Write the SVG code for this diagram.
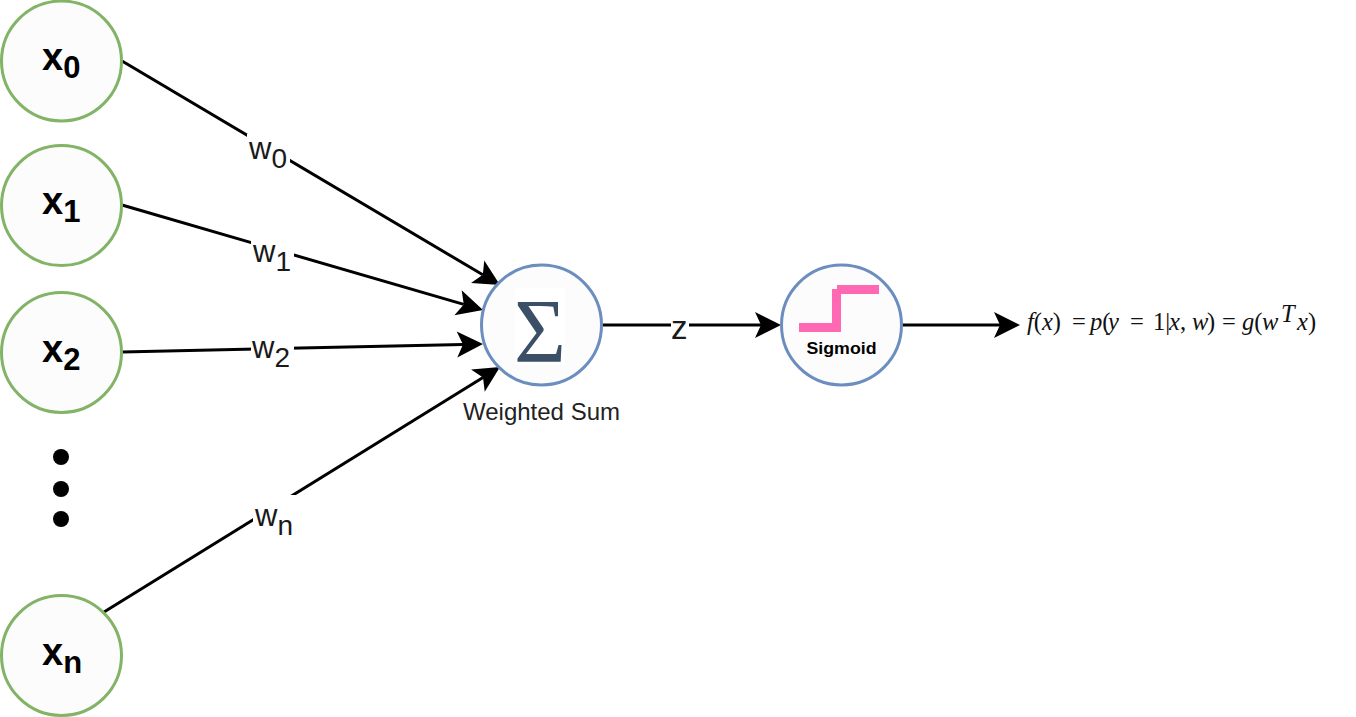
<svg xmlns="http://www.w3.org/2000/svg" width="1356" height="717" viewBox="0 0 1356 717">
<style>
.in{fill:#fcfcfc;stroke:#82b366;stroke-width:3}
.op{fill:#fcfcfc;stroke:#6c8ebf;stroke-width:3}
.e{fill:none;stroke:#000;stroke-width:3;marker-end:url(#a)}
.x{font:bold 38px "Liberation Sans",Arial,sans-serif;fill:#000}
.sx{font-size:31px}
.w{font:31px "Liberation Sans",Arial,sans-serif;fill:#1a1a1a}
.s{font-size:28px}
.m{font:italic 24.5px "Liberation Serif","Times New Roman",serif;fill:#111}
.u{font-style:normal}
.p{fill:#ff69b4}
</style>
<defs>
<marker id="a" markerUnits="userSpaceOnUse" markerWidth="30" markerHeight="30" refX="6" refY="15" orient="auto" overflow="visible">
<path d="M0 2L26 15L0 28L6 15Z" fill="#000"/>
</marker>
</defs>
<rect width="1356" height="717" fill="#fff"/>
<g id="connectors">
<line class="e" x1="122" y1="61" x2="482.8" y2="274.8"/>
<line class="e" x1="122" y1="205" x2="463.8" y2="304.4"/>
<line class="e" x1="122" y1="352" x2="463" y2="344.4"/>
<line class="e" x1="104" y1="612" x2="483" y2="377.5"/>
<line class="e" x1="602" y1="325" x2="761" y2="325"/>
<line class="e" x1="902" y1="325" x2="1000" y2="325"/>
<g id="edge-labels">
<rect x="247" y="134" width="43" height="34" fill="#fff"/>
<text class="w" x="249" y="158.5">w<tspan class="s" dy="9">0</tspan></text>
<rect x="251" y="238" width="43" height="34" fill="#fff"/>
<text class="w" x="253" y="261.5">w<tspan class="s" dy="9">1</tspan></text>
<rect x="251" y="333" width="43" height="34" fill="#fff"/>
<text class="w" x="252" y="358">w<tspan class="s" dy="9">2</tspan></text>
<rect x="253" y="495" width="44" height="40" fill="#fff"/>
<text class="w" x="255" y="526">w<tspan class="s" dy="9">n</tspan></text>
<rect x="671" y="318" width="18" height="24" fill="#fff"/>
<text class="w" x="671" y="339" style="font-size:33px">z</text>
</g>
</g>
<g id="x0"><circle class="in" cx="61.5" cy="61" r="60"/><text class="x" x="42" y="69.5">x<tspan class="sx" dy="8.5">0</tspan></text></g>
<g id="x1"><circle class="in" cx="61.5" cy="205.5" r="60"/><text class="x" x="42" y="213.5">x<tspan class="sx" dy="8.5">1</tspan></text></g>
<g id="x2"><circle class="in" cx="61.5" cy="352.5" r="60"/><text class="x" x="42" y="361.5">x<tspan class="sx" dy="8.5">2</tspan></text></g>
<g id="dots"><circle cx="61" cy="457" r="8"/><circle cx="61" cy="489" r="8"/><circle cx="61" cy="519" r="8"/></g>
<g id="xn"><circle class="in" cx="61.5" cy="655.5" r="60"/><text class="x" x="42" y="664.5">x<tspan class="sx" dy="8.5">n</tspan></text></g>
<g id="sum"><circle class="op" cx="541.5" cy="325" r="60"/>
<rect x="515" y="288" width="50" height="77" fill="#fff"/>
<text x="540" y="362" text-anchor="middle" textLength="52" lengthAdjust="spacingAndGlyphs" style="font:90px 'Liberation Serif','Times New Roman',serif;fill:#3b4f66">Σ</text>
<text x="541.5" y="420" text-anchor="middle" style="font:24px 'Liberation Sans',Arial,sans-serif;fill:#222">Weighted Sum</text></g>
<g id="sigmoid"><circle class="op" cx="841.5" cy="325" r="60"/>
<rect class="p" x="799" y="323" width="42" height="9"/><rect class="p" x="832" y="289" width="9" height="43"/><rect class="p" x="837" y="285" width="42" height="9"/>
<text x="841.5" y="353.5" text-anchor="middle" textLength="70" lengthAdjust="spacingAndGlyphs" style="font:bold 17px 'Liberation Sans',Arial,sans-serif;fill:#000">Sigmoid</text></g>
<g id="formula">
<text class="m" y="330"><tspan x="1027">f</tspan><tspan class="u">(</tspan>x<tspan class="u">)</tspan><tspan class="u" x="1072">=</tspan><tspan x="1090">p</tspan><tspan class="u">(</tspan><tspan x="1108">y</tspan><tspan class="u" x="1130">=</tspan><tspan class="u" x="1153">1|</tspan><tspan x="1169">x</tspan><tspan class="u">,</tspan><tspan x="1192">w</tspan><tspan class="u" x="1207">)</tspan><tspan class="u" x="1222">=</tspan><tspan x="1242">g</tspan><tspan class="u">(</tspan><tspan x="1262">w</tspan><tspan x="1297">x</tspan><tspan class="u">)</tspan></text>
<text class="m" x="1281" y="322">T</text>
</g>
</svg>
